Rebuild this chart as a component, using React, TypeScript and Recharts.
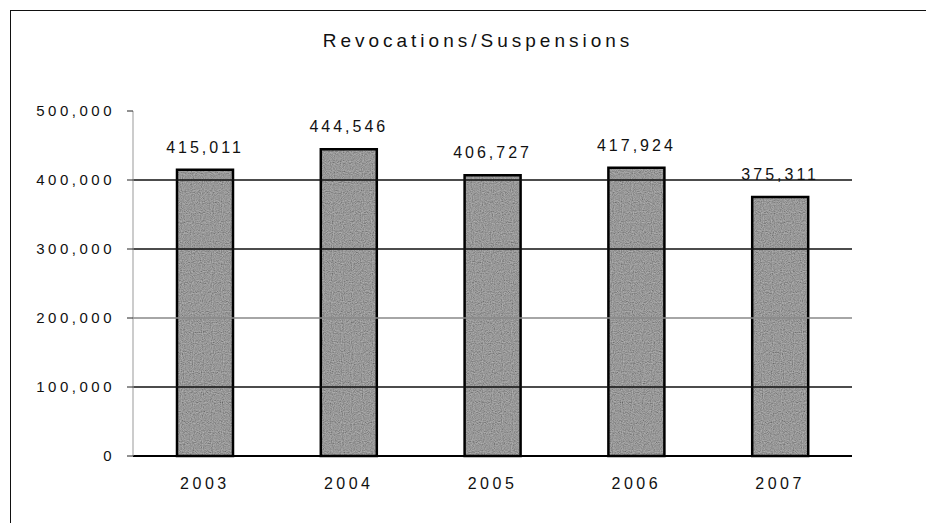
import { BarChart, Bar, XAxis, YAxis, ReferenceLine, LabelList } from 'recharts'

const years = ['2003', '2004', '2005', '2006', '2007']
const revocations = [415011, 444546, 406727, 417924, 375311]
const yTicks = [0, 100000, 200000, 300000, 400000, 500000]
const gridValues = [100000, 200000, 300000, 400000]

const data = years.map((year, i) => ({ year, value: revocations[i] }))

const font = '"Liberation Sans", Arial, sans-serif'
const fmt = (v: number) => v.toLocaleString('en-US')

export default function App() {
  return (
    <div style={{ position: 'relative', width: 926, height: 515 }}>
      <div
        style={{
          position: 'absolute',
          left: 2,
          top: 2,
          right: -10,
          bottom: -10,
          borderTop: '1px solid #111',
          borderLeft: '1px solid #111',
        }}
      />
      <div
        style={{
          position: 'absolute',
          top: 22,
          left: 0,
          width: 940,
          textAlign: 'center',
          fontFamily: font,
          fontSize: 19,
          letterSpacing: 4,
          color: '#111',
        }}
      >
        Revocations/Suspensions
      </div>
      <BarChart
        width={926}
        height={515}
        data={data}
        margin={{ top: 103, right: 82, bottom: 37, left: 0 }}
      >
        <defs>
          <filter id="grain" x="0" y="0" width="100%" height="100%">
            <feTurbulence type="fractalNoise" baseFrequency="0.9" numOctaves={1} seed={3} />
            <feColorMatrix type="saturate" values="0" />
            <feComponentTransfer>
              <feFuncR type="linear" slope="1.4" intercept="-0.25" />
              <feFuncG type="linear" slope="1.4" intercept="-0.25" />
              <feFuncB type="linear" slope="1.4" intercept="-0.25" />
              <feFuncA type="linear" slope="0" intercept="1" />
            </feComponentTransfer>
          </filter>
          <pattern id="barFill" patternUnits="userSpaceOnUse" width="200" height="400">
            <rect width="200" height="400" fill="#7c7c7c" />
            <rect width="200" height="400" filter="url(#grain)" opacity="0.5" />
          </pattern>
        </defs>
        <XAxis
          dataKey="year"
          tickLine={false}
          tickSize={0}
          tickMargin={22}
          axisLine={{ stroke: '#000', strokeWidth: 2 }}
          tick={{ fill: '#111', fontFamily: font, fontSize: 16, letterSpacing: 3.5 }}
          height={30}
        />
        <YAxis
          width={125}
          domain={[0, 500000]}
          ticks={yTicks}
          tickFormatter={fmt}
          tickSize={6}
          tickMargin={12}
          tickLine={{ stroke: '#222' }}
          axisLine={{ stroke: '#999' }}
          tick={{ fill: '#111', fontFamily: font, fontSize: 15, letterSpacing: 3.5 }}
        />
        {gridValues.map((v) => (
          <ReferenceLine
            key={v}
            y={v}
            stroke={v === 200000 ? '#888' : '#111'}
            strokeWidth={1.5}
          />
        ))}
        <Bar
          dataKey="value"
          fill="url(#barFill)"
          stroke="#000"
          strokeWidth={2.5}
          barSize={56}
          isAnimationActive={false}
        >
          <LabelList
            dataKey="value"
            position="top"
            offset={17}
            formatter={(v: any) => fmt(Number(v))}
            style={{ fill: '#111', fontFamily: font, fontSize: 16, letterSpacing: 3 }}
          />
        </Bar>
      </BarChart>
    </div>
  )
}
